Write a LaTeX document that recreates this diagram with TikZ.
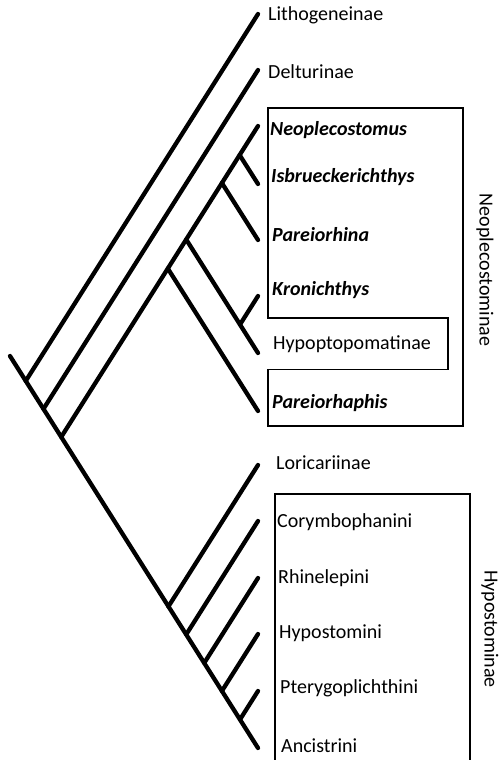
\documentclass[tikz,border=0pt]{standalone}
\usepackage{fontspec}
\setmainfont{Carlito}
\begin{document}
\begin{tikzpicture}[x=1pt,y=-1pt,
  branch/.style={line width=4.3pt, line cap=round},
  cladebox/.style={line width=1.8pt},
  taxon/.style={anchor=base west, inner sep=0pt, font=\fontsize{20}{24}\selectfont},
  genus/.style={anchor=base west, inner sep=0pt, font=\fontsize{20}{24}\selectfont\bfseries\itshape},
  grouplabel/.style={rotate=-90, inner sep=0pt, font=\fontsize{20}{24}\selectfont}]
\useasboundingbox (0,0) rectangle (501,760);
\clip (0,0) rectangle (501,760);
% tips
\coordinate (tLith) at (258,14);
\coordinate (tDelt) at (258,70);
\coordinate (tNeo) at (258,126);
\coordinate (tIsb) at (258,184);
\coordinate (tPar) at (258,240);
\coordinate (tKro) at (258,296);
\coordinate (tHyp) at (258,353);
\coordinate (tPhs) at (258,411);
\coordinate (tLor) at (258,465);
\coordinate (tCor) at (258,521);
\coordinate (tRhi) at (258,578);
\coordinate (tHst) at (258,634);
\coordinate (tPte) at (258,691);
\coordinate (tAnc) at (258,748);
% root and junctions
\coordinate (root) at (10,356);
\coordinate (jLith) at (25.7,381);
\coordinate (jDelt) at (43.4,409);
\coordinate (jNeo) at (61.2,437);
\coordinate (jLor) at (168.4,606.5);
\coordinate (jCor) at (186.2,634.5);
\coordinate (jRhi) at (204.2,663);
\coordinate (jHst) at (221.9,691);
\coordinate (jPte) at (240,719.5);
\coordinate (jPhs) at (167.8,268.5);
\coordinate (jHyp) at (186.2,239.5);
\coordinate (jKro) at (240,324.5);
\coordinate (jPar) at (221.9,183);
\coordinate (jIsb) at (239.6,155);
% branches
\draw[branch] (root) -- (tAnc);
\draw[branch] (jLith) -- (tLith);
\draw[branch] (jDelt) -- (tDelt);
\draw[branch] (jNeo) -- (tNeo);
\draw[branch] (jLor) -- (tLor);
\draw[branch] (jCor) -- (tCor);
\draw[branch] (jRhi) -- (tRhi);
\draw[branch] (jHst) -- (tHst);
\draw[branch] (jPte) -- (tPte);
\draw[branch] (jPhs) -- (tPhs);
\draw[branch] (jHyp) -- (tHyp);
\draw[branch] (jKro) -- (tKro);
\draw[branch] (jPar) -- (tPar);
\draw[branch] (jIsb) -- (tIsb);
% boxes
\draw[cladebox] (268,108) -- (463,108) -- (463,426) -- (268,426) -- (268,369.5)
  -- (448,369.5) -- (448,318) -- (268,318) -- cycle;
\draw[cladebox] (275,494) -- (470,494) -- (470,770) -- (275,770) -- cycle;
% labels
\node[taxon] (lLith) at (268,20.5) {Lithogeneinae};
\node[taxon] (lDelt) at (268,78) {Delturinae};
\node[genus] (lNeo) at (270,135) {Neoplecostomus};
\node[genus] (lIsb) at (271,182) {Isbrueckerichthys};
\node[genus] (lPar) at (272,241) {Pareiorhina};
\node[genus] (lKro) at (272,295.5) {Kronichthys};
\node[taxon] (lHyp) at (273,349.5) {Hypoptopomatinae};
\node[genus] (lPhs) at (272,408.5) {Pareiorhaphis};
\node[taxon] (lLor) at (276,469.5) {Loricariinae};
\node[taxon] (lCor) at (277,527.5) {Corymbophanini};
\node[taxon] (lRhi) at (278,583) {Rhinelepini};
\node[taxon] (lHst) at (279,638.5) {Hypostomini};
\node[taxon] (lPte) at (280,693) {Pterygoplichthini};
\node[taxon] (lAnc) at (281,752) {Ancistrini};
\node[grouplabel] (gNeo) at (485,270) {Neoplecostominae};
\node[grouplabel] (gHst) at (490,629) {Hypostominae};
\end{tikzpicture}
\end{document}
